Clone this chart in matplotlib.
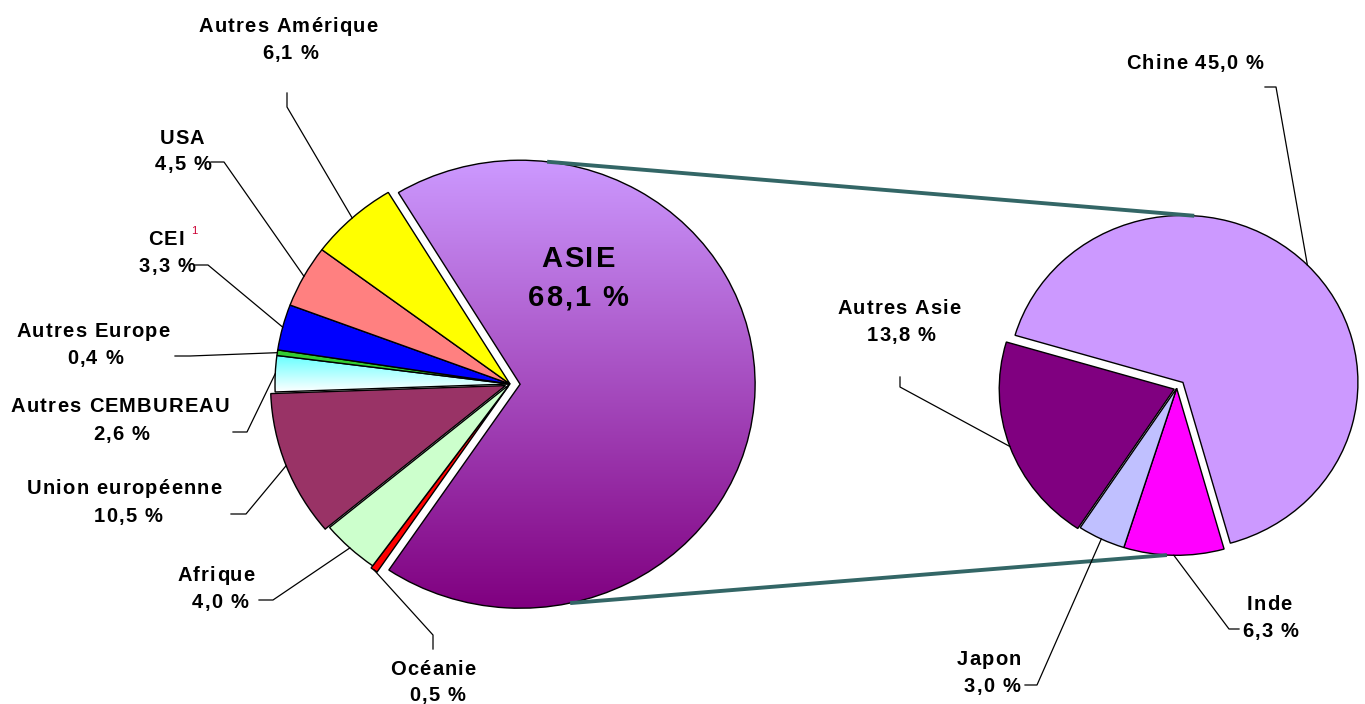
import numpy as np
import matplotlib
matplotlib.use("Agg")
import matplotlib.pyplot as plt
from matplotlib.colors import to_rgb
from matplotlib.font_manager import FontProperties, findfont, get_font

plt.rcParams['font.family'] = ['Liberation Sans', 'DejaVu Sans']

W, H = 1365, 704

# ---------------- data ----------------
left_labels = ["ASIE", "Océanie", "Afrique", "Union européenne", "Autres CEMBUREAU",
               "Autres Europe", "CEI", "USA", "Autres Amérique"]
left_values = [68.1, 0.5, 4.0, 10.5, 2.6, 0.4, 3.3, 4.5, 6.1]
left_colors = ["#CC99FF", "#FF0000", "#CCFFCC", "#993366", "#66FFFF",
               "#33CC33", "#0000FF", "#FF8080", "#FFFF00"]

right_labels = ["Chine", "Inde", "Japon", "Autres Asie"]
right_values = [45.0, 6.3, 3.0, 13.8]
right_colors = ["#CC99FF", "#FF00FF", "#C0C0FF", "#800080"]


def fmt(v):
    return f"{v:.1f}".replace(".", ",") + " %"


fig = plt.figure(figsize=(W / 100, H / 100), dpi=100)
fig.patch.set_facecolor("white")

L = 1.3


def pie_axes(cx, cy, rx, ry):
    w = 2 * L * rx
    h = 2 * L * ry
    return fig.add_axes([(cx - w / 2) / W, (H - cy - h / 2) / H, w / W, h / H])


def finish(ax):
    ax.set_aspect('auto')
    ax.set_xlim(-L, L)
    ax.set_ylim(-L, L)
    ax.axis('off')


def gradient(ax, wedge, c_top, c_bot):
    ext = wedge.get_path().get_extents()
    t = np.linspace(0, 1, 256)[:, None]
    a = np.array(to_rgb(c_bot))
    b = np.array(to_rgb(c_top))
    img = (a[None, None, :] * (1 - t[..., None]) + b[None, None, :] * t[..., None])
    im = ax.imshow(img, extent=[ext.x0, ext.x1, ext.y0, ext.y1], origin='lower',
                   aspect='auto', zorder=0.5, interpolation='bilinear')
    im.set_clip_path(wedge)
    wedge.set_facecolor('none')


# left pie
axL = pie_axes(510, 384, 235, 224)
wl, _ = axL.pie(left_values, colors=left_colors, startangle=121.2, counterclock=False,
                explode=[0.043, 0.012, 0.0, 0.02, 0.0, 0.0, 0.0, 0.0, 0.0],
                wedgeprops=dict(edgecolor='black', linewidth=1.0))
finish(axL)
gradient(axL, wl[0], "#CC99FF", "#800080")
gradient(axL, wl[4], "#66FFFF", "#FFFFFF")

# right pie
axR = pie_axes(1176.7, 388.3, 175, 167)
wr, _ = axR.pie(right_values, colors=right_colors, startangle=163.6, counterclock=False,
                explode=[0.05, 0.0, 0.0, 0.015],
                wedgeprops=dict(edgecolor='black', linewidth=1.0))
finish(axR)

# overlay in pixel coordinates
ov = fig.add_axes([0, 0, 1, 1])
ov.set_xlim(0, W)
ov.set_ylim(H, 0)
ov.axis('off')
ov.patch.set_alpha(0)
ov.set_zorder(5)


def to_px(ax, x, y):
    d = ax.transData.transform((x, y))
    return ov.transData.inverted().transform(d)


def wedge_point(ax, w, ang):
    cx, cy = w.center
    return to_px(ax, cx + w.r * np.cos(np.radians(ang)), cy + w.r * np.sin(np.radians(ang)))


def mid_point(ax, w):
    return wedge_point(ax, w, (w.theta1 + w.theta2) / 2)


# letter-spaced text (Excel-like tracking)
_fonts = {}


def tracked(cx, cy, s, size, track, color='black'):
    key = size
    if key not in _fonts:
        prop = FontProperties(family='Liberation Sans', weight='bold', size=size)
        _fonts[key] = get_font(findfont(prop))
    f = _fonts[key]
    f.set_size(size, 100)
    adv = [f.load_char(ord(c)).linearHoriAdvance / 65536 for c in s]
    total = sum(adv) + track * (len(s) - 1)
    x = cx - total / 2
    em = size * 100 / 72
    base = cy + 0.729 * em / 2
    for c, a in zip(s, adv):
        if c != ' ':
            ov.text(x, base, c, ha='left', va='baseline', fontsize=size,
                    fontweight='bold', color=color, zorder=3,
                    family=['Liberation Sans', 'DejaVu Sans'])
        x += a + track


# series connector lines between the pies
teal = "#336666"
p1 = wedge_point(axL, wl[0], 83.4)
p2 = wedge_point(axR, wr[0], 86.3)
ov.plot([p1[0], p2[0]], [p1[1], p2[1]], color=teal, lw=2.8, solid_capstyle='butt', zorder=1)
p3 = wedge_point(axL, wl[0], -77.7)
p4 = wedge_point(axR, wr[1], -93.2)
ov.plot([p3[0], p4[0]], [p3[1], p4[1]], color=teal, lw=2.8, solid_capstyle='butt', zorder=1)

FS = 14.5
TR = 1.2

# label layout: (line1 pos, line2 pos, elbow, end)
left_layout = {
    "Océanie": ((433, 668), (437, 694), (433, 635), (433, 649)),
    "Afrique": ((216, 574), (220, 601), (273, 600), (259, 600)),
    "Union européenne": ((124, 487), (128, 515), (246, 514), (231, 514)),
    "Autres CEMBUREAU": ((120, 405), (121, 433), (247, 432), (233, 432)),
    "Autres Europe": ((93, 330), (95, 357), (190, 356), (175, 356)),
    "CEI": ((166, 238), (167, 265), (208, 265), (195, 265)),
    "USA": ((182, 137), (183, 163), (224, 162), (211, 162)),
    "Autres Amérique": ((288, 25), (290, 52), (287, 107), (287, 93)),
}

for i, (lab, val) in enumerate(zip(left_labels, left_values)):
    if lab not in left_layout:
        continue
    l1, l2, elbow, end = left_layout[lab]
    p = mid_point(axL, wl[i])
    ov.plot([p[0], elbow[0], end[0]], [p[1], elbow[1], end[1]], color='black', lw=0.9, zorder=2)
    tracked(l1[0], l1[1], lab, FS, TR)
    tracked(l2[0], l2[1], fmt(val), FS, TR)
    if lab == "CEI":
        ov.text(191, 231, "1", ha='left', va='center', fontsize=8, color="#CC0033", zorder=3)

# ASIE label inside the wedge
tracked(578, 256, left_labels[0], 21, 2.0)
tracked(578, 295, fmt(left_values[0]), 21, 2.0)

right_layout = {
    "Inde": ((1269, 603), (1270, 630), (1229, 629), (1239, 629)),
    "Japon": ((989, 658), (992, 685), (1037, 685), (1025, 685)),
    "Autres Asie": ((899, 307), (901, 334), (900, 387), (900, 377)),
}
for i, (lab, val) in enumerate(zip(right_labels, right_values)):
    if lab == "Chine":
        p = mid_point(axR, wr[i])
        ov.plot([p[0], 1276, 1265], [p[1], 87, 87], color='black', lw=0.9, zorder=2)
        tracked(1195, 62, f"{lab} {fmt(val)}", FS, TR)
        continue
    l1, l2, elbow, end = right_layout[lab]
    p = mid_point(axR, wr[i])
    ov.plot([p[0], elbow[0], end[0]], [p[1], elbow[1], end[1]], color='black', lw=0.9, zorder=2)
    tracked(l1[0], l1[1], lab, FS, TR)
    tracked(l2[0], l2[1], fmt(val), FS, TR)

fig.savefig("out.png", dpi=100, facecolor="white")
